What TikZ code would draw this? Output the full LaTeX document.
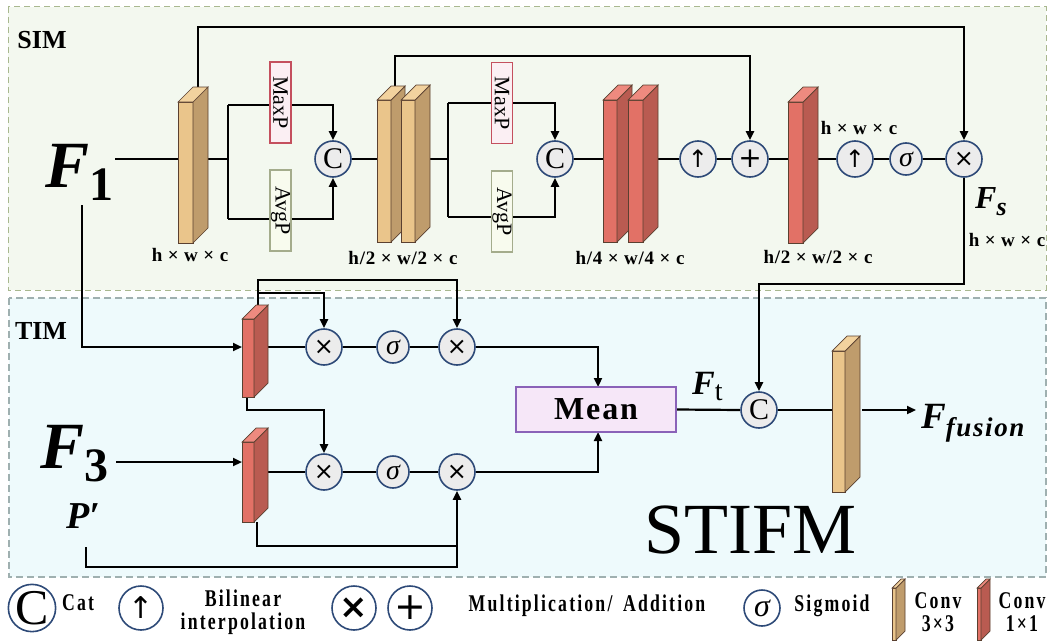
\documentclass[tikz,border=0pt]{standalone}
\usepackage{fontspec}
\setmainfont{Liberation Serif}
\newfontfamily\symf{DejaVu Sans}
\newfontfamily\legf[FakeStretch=0.74,LetterSpace=9]{Liberation Serif}
\newfontfamily\dimf[LetterSpace=4]{Liberation Serif}
\usetikzlibrary{arrows.meta}
\definecolor{simbg}{HTML}{F3F8EF}
\definecolor{simbd}{HTML}{A9B88F}
\definecolor{timbg}{HTML}{EEFAFC}
\definecolor{timbd}{HTML}{9FB0B0}
\definecolor{tanF}{HTML}{EAC58B}
\definecolor{tanS}{HTML}{BF9C6C}
\definecolor{tanT}{HTML}{F2D29E}
\definecolor{redF}{HTML}{E27166}
\definecolor{redS}{HTML}{B95B51}
\definecolor{redT}{HTML}{EE8A7F}
\definecolor{opblue}{HTML}{2E4A78}
\definecolor{opgray}{HTML}{ECECEC}
\definecolor{maxbd}{HTML}{C4505E}
\definecolor{maxbg}{HTML}{FBEFF3}
\definecolor{avgbd}{HTML}{A4AC8C}
\definecolor{avgbg}{HTML}{F8FBEE}
\definecolor{meanbd}{HTML}{8A62B8}
\definecolor{meanbg}{HTML}{F6E7F8}
\definecolor{slabedge}{HTML}{5A4030}
\newcommand\fs[1]{\fontsize{#1}{#1}\selectfont}
\newcommand\myslab[8]{%
 \filldraw[fill=#6,draw=slabedge,line width=0.7pt] (#1,#2) rectangle ({#1+#4},#3);
 \filldraw[fill=#7,draw=slabedge,line width=0.7pt] ({#1+#4},#2) -- ({#1+#4+#5},{#2-#5}) -- ({#1+#4+#5},{#3-#5}) -- ({#1+#4},#3) -- cycle;
 \filldraw[fill=#8,draw=slabedge,line width=0.7pt] (#1,#2) -- ({#1+#5},{#2-#5}) -- ({#1+#4+#5},{#2-#5}) -- ({#1+#4},#2) -- cycle;
}
\pgfdeclarelayer{bg}
\pgfdeclarelayer{wires}
\pgfsetlayers{bg,wires,main}
\tikzset{
 wire/.style={line width=2.2pt, black},
 arr/.style={wire, -{Triangle[length=9pt,width=8pt]}},
 op/.style={circle, draw=opblue, fill=opgray, line width=1.6pt, minimum size=36pt, inner sep=0pt},
 sop/.style={op, minimum size=32pt},
 lop/.style={circle, draw=opblue, fill=white, line width=1.6pt, minimum size=44pt, inner sep=0pt},
 dim/.style={font=\dimf\fs{19}\bfseries, inner sep=0pt},
 pool/.style={rotate=-90, line width=1.2pt, minimum width=81pt, minimum height=21pt, inner sep=0pt, font=\fs{22}},
 leg/.style={font=\legf\fs{24}\bfseries, inner sep=0pt, align=center},
}
\begin{document}
\begin{tikzpicture}[x=1pt,y=-1pt]
\useasboundingbox (0,0) rectangle (1049,642);
\begin{pgfonlayer}{bg}
\fill[white] (0,0) rectangle (1049,642);
\draw[simbd, fill=simbg, dash pattern=on 6pt off 4pt, line width=1pt] (8,7) rectangle (1046,290);
\draw[timbd, fill=timbg, dash pattern=on 7pt off 4pt, line width=1.4pt] (9,298) rectangle (1046,577);
\end{pgfonlayer}

% ---- SIM ----
\node[font=\fs{26}\bfseries] (sim) at (42,40) {SIM};
\node[font=\fs{26}\bfseries] (tim) at (41,331) {TIM};
\node[anchor=base west, inner sep=0pt] (f1) at (45,187) {\fs{66}\bfseries\itshape F\raisebox{-13pt}{\fs{48}\upshape 1}};

\myslab{178}{102}{243}{15}{15}{tanF}{tanS}{tanT}
\coordinate (b1w) at (178,159); \coordinate (b1e) at (208,159); \coordinate (b1t) at (198,92);
\node[dim] (l1) at (190,255) {h × w × c};

\node[pool, draw=maxbd, fill=maxbg] (mx1) at (280.5,102.5) {MaxP};
\node[pool, draw=avgbd, fill=avgbg] (av1) at (280.5,210.5) {AvgP};
\node[op, font=\fs{30}] (c1) at (333,159) {C};
\coordinate (s1) at (228,159); \coordinate (s1u) at (228,105); \coordinate (s1d) at (228,219);

\myslab{377}{100}{242}{14}{14}{tanF}{tanS}{tanT}
\myslab{401}{100}{242}{14}{15}{tanF}{tanS}{tanT}
\coordinate (b2w) at (377,159); \coordinate (b2e) at (430,159); \coordinate (b2t) at (395,92);
\node[dim] (l2) at (403,258) {h/2 × w/2 × c};

\node[pool, draw=maxbd, fill=maxbg] (mx2) at (502,103) {MaxP};
\node[pool, draw=avgbd, fill=avgbg] (av2) at (502,211.5) {AvgP};
\node[op, font=\fs{30}] (c2) at (555,159) {C};
\coordinate (s2) at (448,159); \coordinate (s2u) at (448,103); \coordinate (s2d) at (448,217);

\myslab{603}{100}{242}{14}{15}{redF}{redS}{redT}
\myslab{628}{100}{242}{15}{15}{redF}{redS}{redT}
\coordinate (b3w) at (603,159); \coordinate (b3e) at (658,159);
\node[dim] (l3) at (630,258) {h/4 × w/4 × c};

\node[op, font=\symf\fs{24}] (up1) at (698,159) {↑};
\node[op, font=\symf\fs{28}] (pl) at (750,159) {+};
\myslab{788}{102}{243}{15}{15}{redF}{redS}{redT}
\coordinate (b4w) at (788,159); \coordinate (b4e) at (818,159);
\node[dim] (l4) at (818,257) {h/2 × w/2 × c};
\node[dim] (l5) at (859,128) {h × w × c};
\node[op, font=\symf\fs{24}] (up2) at (855,159) {↑};
\node[sop, font=\fs{28}\itshape] (sg1) at (906,159) {σ};
\node[op, font=\symf\fs{24}] (mu1) at (964,159) {×};
\node[anchor=base west, inner sep=0pt] (fs) at (975,208) {\fs{32}\bfseries\itshape F\raisebox{-7pt}{\fs{26}s}};
\node[dim] (l6) at (1007,240) {h × w × c};

% ---- TIM ----
\myslab{242}{319}{397}{12}{14}{redF}{redS}{redT}
\coordinate (b5w) at (242,347); \coordinate (b5e) at (268,347);
\coordinate (b5t) at (258,310); \coordinate (b5b) at (247,397);
\myslab{242}{442}{522}{12}{14}{redF}{redS}{redT}
\coordinate (b6w) at (242,462); \coordinate (b6e) at (268,472); \coordinate (b6b) at (257,522);

\node[op, font=\symf\fs{24}] (m1) at (324,347) {×};
\node[sop, font=\fs{28}\itshape] (sg2) at (393,347) {σ};
\node[op, font=\symf\fs{24}] (m2) at (457,347) {×};
\node[op, font=\symf\fs{24}] (m3) at (324,472) {×};
\node[sop, font=\fs{28}\itshape] (sg3) at (393,472) {σ};
\node[op, font=\symf\fs{24}] (m4) at (457,472) {×};

\node[anchor=base west, inner sep=0pt] (f3) at (40,468) {\fs{66}\bfseries\itshape F\raisebox{-13pt}{\fs{48}\upshape 3}};
\node[anchor=base west, inner sep=0pt] (pp) at (66,528) {\fs{38}\bfseries\itshape P′};
\coordinate (f1d) at (82,205);
\coordinate (f3e) at (116,462);
\coordinate (ppd) at (86,547);

\node[draw=meanbd, fill=meanbg, line width=1.4pt, minimum width=160pt, minimum height=45pt, inner sep=0pt, font=\fs{32}\bfseries\addfontfeatures{LetterSpace=6}] (mean) at (596,409.5) {Mean};
\node[op, font=\fs{30}] (c3) at (759,410) {C};
\node[anchor=base west, inner sep=0pt] (ft) at (692,394) {\fs{34}\bfseries\itshape F\raisebox{-6pt}{\fs{28}\mdseries\upshape t}};
\myslab{832}{351}{492}{13}{15}{tanF}{tanS}{tanT}
\coordinate (b7w) at (832,410); \coordinate (b7e) at (862,410);
\coordinate (fo) at (916,410);
\node[anchor=base west, inner sep=0pt] (ff) at (921,428) {\fs{37}\bfseries\itshape F\raisebox{-8pt}{\fs{27}\addfontfeatures{LetterSpace=6}fusion}};
\node[anchor=base west, inner sep=0pt, font=\fs{72}] (stifm) at (644,553) {STIFM};

% ---- wires ----
\begin{pgfonlayer}{wires}
\draw[wire] (115,159) -- (b1w);
\draw[wire] (b1e) -- (s1);
\draw[wire] (s1u) -- (s1d);
\draw[arr] (s1u) -| (c1.north);
\draw[arr] (s1d) -| (c1.south);
\draw[wire] (c1.east) -- (b2w);
\draw[wire] (b2e) -- (s2);
\draw[wire] (s2u) -- (s2d);
\draw[arr] (s2u) -| (c2.north);
\draw[arr] (s2d) -| (c2.south);
\draw[wire] (c2.east) -- (b3w);
\draw[wire] (b3e) -- (up1.west);
\draw[wire] (up1.east) -- (pl.west);
\draw[wire] (pl.east) -- (b4w);
\draw[wire] (b4e) -- (up2.west);
\draw[wire] (up2.east) -- (sg1.west);
\draw[wire] (sg1.east) -- (mu1.west);
\draw[arr] (b2t) -- (395,56) -| (pl.north);
\draw[arr] (b1t) -- (198,27) -| (mu1.north);
\draw[arr] (mu1.south) -- (964,284) -| (c3.north);
% TIM
\draw[arr] (f1d) |- (b5w);
\draw[wire] (b5e) -- (m1.west);
\draw[wire] (m1.east) -- (sg2.west);
\draw[wire] (sg2.east) -- (m2.west);
\draw[arr] (m2.east) -| (598,387);
\draw[arr] (b5t) -- (258,280) -| (m2.north);
\draw[arr] (258,293) -| (m1.north);
\draw[arr] (b5b) -- (247,410) -| (m3.north);
\draw[arr] (f3e) -- (b6w);
\draw[wire] (b6e) -- (m3.west);
\draw[wire] (m3.east) -- (sg3.west);
\draw[wire] (sg3.east) -- (m4.west);
\draw[arr] (m4.east) -| (598,432);
\draw[wire] (b6b) -- (257,546) -- (457,546);
\draw[arr] (ppd) -- (86,567) -| (m4.south);
\draw[wire] (mean.east) -- (c3.west);
\draw[wire] (c3.east) -- (b7w);
\draw[arr] (b7e) -- (fo);
\end{pgfonlayer}

% ---- legend ----
\node[lop, minimum size=42pt, font=\fs{50}] (lc) at (32,608) {C};
\node[leg, anchor=west] (lcat) at (62,603) {Cat};
\node[lop, font=\symf\fs{30}] (lup) at (141,608) {↑};
\node[leg] (lbi) at (243,612) {Bilinear\\[-1pt]interpolation};
\node[lop, font=\symf\bfseries\fs{34}] (lx) at (354,608) {×};
\node[lop, font=\symf\fs{38}] (lp) at (410,608) {+};
\node[leg] (lma) at (587,606) {Multiplication/\, Addition};
\node[lop, minimum size=36pt, font=\fs{32}\itshape] (ls) at (762,608) {σ};
\node[leg] (lsg) at (832,606) {Sigmoid};
\myslab{892}{588}{640}{4}{9}{tanF}{tanS}{tanT}
\node[leg] (lc3) at (938,612) {Conv\\[-1pt]3×3};
\myslab{977}{588}{640}{4}{9}{redF}{redS}{redT}
\node[leg] (lc1) at (1022,612) {Conv\\[-1pt]1×1};
\end{tikzpicture}
\end{document}
